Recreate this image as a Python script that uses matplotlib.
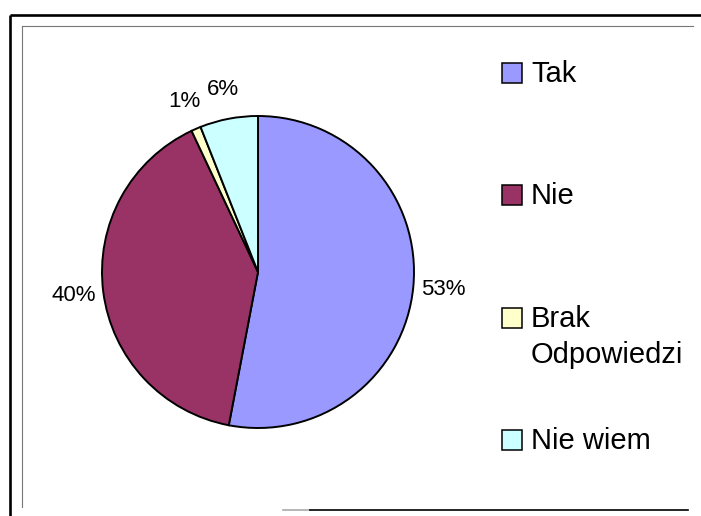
import matplotlib
matplotlib.use("Agg")
import matplotlib.pyplot as plt
from matplotlib.patches import Rectangle
from matplotlib.lines import Line2D

# answers and their shares (%)
labels = ["Tak", "Nie", "Brak\nOdpowiedzi", "Nie wiem"]
values = [53, 40, 1, 6]
colors = ["#9999FF", "#993366", "#FFFFCC", "#CCFFFF"]

plt.rcParams["font.family"] = ["Liberation Sans", "DejaVu Sans"]

W, H = 701, 516
fig = plt.figure(figsize=(W / 100, H / 100), dpi=100)

def px(x, y):
    # pixel (from top-left) -> figure fraction
    return x / W, 1 - y / H

# pie: centre (258, 272) px, radius 156 px
cx, cy, r = 258, 272, 156
lim = 1.05
half = r * lim
ax = fig.add_axes([(cx - half) / W, (H - cy - half) / H, 2 * half / W, 2 * half / H])
wedges, texts, autotexts = ax.pie(values, colors=colors, startangle=90, counterclock=False,
                                  autopct="%.0f%%", pctdistance=1.19, labeldistance=None,
                                  wedgeprops=dict(edgecolor="black", linewidth=1.4),
                                  textprops=dict(fontsize=16, color="black"))
ax.set_xlim(-lim, lim)
ax.set_ylim(-lim, lim)
ax.set_aspect("equal")
ax.axis("off")

# legend, drawn by hand to keep Excel's spacing
line_pitch = 36
for i, (lab, col) in enumerate(zip(labels, colors)):
    top = 63 + i * 122.3
    x0, y0 = px(502, top + 20)
    fig.add_artist(Rectangle((x0, y0), 20 / W, 20 / H, transform=fig.transFigure,
                             facecolor=col, edgecolor="black", linewidth=1.1))
    # baseline of the last line of the label
    nl = lab.count("\n")
    tx, ty = px(531, top + 19 + nl * line_pitch)
    fig.text(tx, ty, lab, fontsize=21, va="baseline", ha="left", linespacing=1.36)

# frame lines
def seg(x1, y1, x2, y2, **kw):
    a, b = px(x1, y1)
    c, d = px(x2, y2)
    fig.add_artist(Line2D([a, c], [b, d], transform=fig.transFigure, **kw))

seg(10, 15, 701, 15, color="black", linewidth=1.9, solid_capstyle="butt")
seg(10, 15, 10, 516, color="black", linewidth=1.9, solid_capstyle="butt")
seg(22, 26, 693, 26, color="#777777", linewidth=0.8)
seg(22, 26, 22, 507, color="#777777", linewidth=0.8)
seg(283, 509.5, 310, 509.5, color="#aaaaaa", linewidth=1.2)
seg(310, 509.5, 688, 509.5, color="black", linewidth=1.2)

fig.savefig("out.png", dpi=100)
